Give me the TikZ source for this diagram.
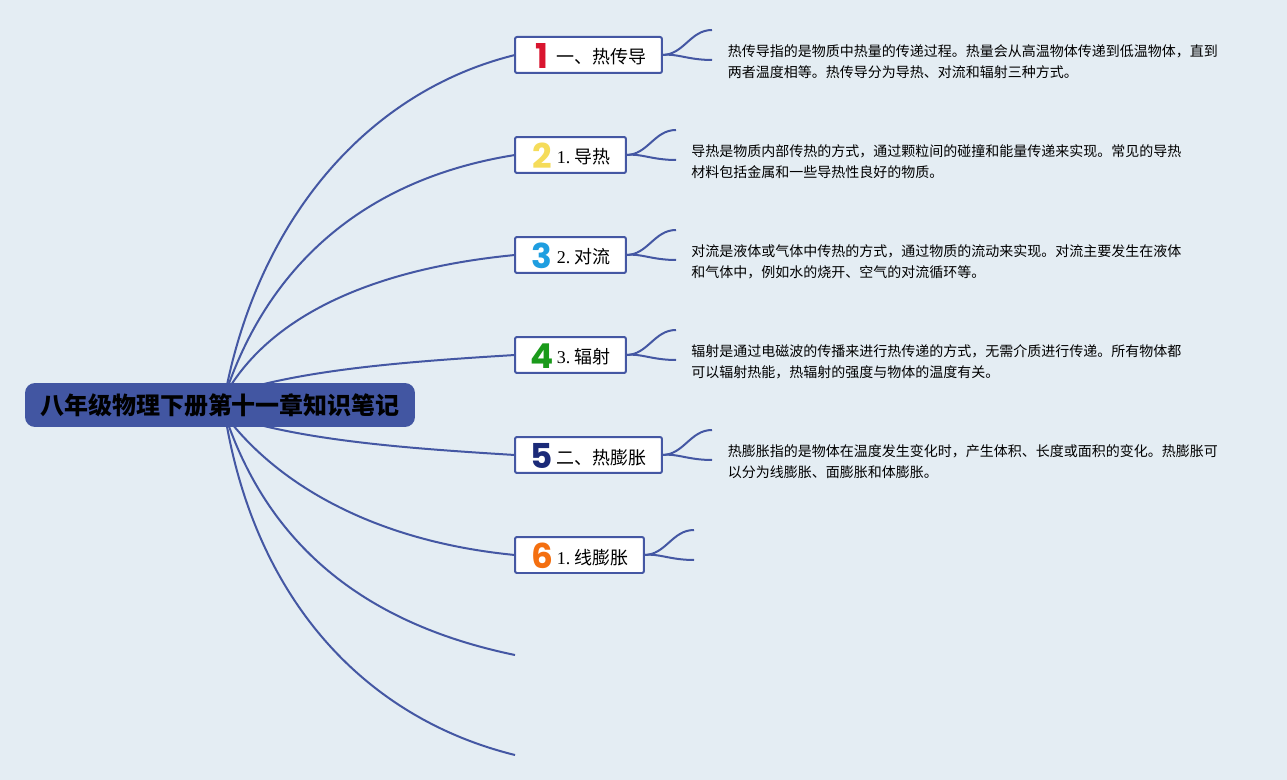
\documentclass[tikz,border=0pt]{standalone}
\usepackage{fontspec}
\setmainfont{Liberation Serif}
\newfontfamily\cjk{Noto Sans CJK SC}
\newfontfamily\numfont{Poppins}
\usetikzlibrary{backgrounds}
\usepackage{xcolor}
\definecolor{paper}{HTML}{E4EDF3}
\definecolor{linecol}{HTML}{4457A3}
\definecolor{rootcol}{HTML}{4256A2}
\definecolor{numa}{HTML}{D9152F}
\definecolor{numb}{HTML}{F5DC5A}
\definecolor{numc}{HTML}{1F9EE0}
\definecolor{numd}{HTML}{1A9A1A}
\definecolor{nume}{HTML}{1B2A78}
\definecolor{numf}{HTML}{F46F10}
\newcommand{\toptext}[3]{\hspace*{0.24cm}\makebox[0.6cm][c]{\raisebox{-0.09cm}{\fontsize{19.5}{20}\selectfont\numfont\bfseries\textcolor{#1}{#2}}}#3\hspace*{0.3cm}}

\begin{document}
\begin{tikzpicture}[x=0.02cm, y=-0.02cm,
    root/.style={fill=rootcol, rounded corners=0.2cm, minimum width=7.8cm, minimum height=0.88cm, inner sep=0pt, outer sep=0pt, font=\fontsize{13.65}{16}\selectfont\cjk\bfseries},
    topic/.style={draw=linecol, line width=0.04cm, fill=white, rounded corners=0.04cm, anchor=west, text height=0.54cm, text depth=0.18cm, inner sep=0pt, outer sep=0pt, font=\fontsize{10.24}{12}\selectfont},
    note/.style={anchor=north west, align=left, inner sep=0pt, font=\fontsize{7.97}{11.95}\selectfont\cjk},
    branch/.style={draw=linecol, line width=0.04cm}]
    \node[root] (0) at (220,405) {八年级物理下册第十一章知识笔记};
    \coordinate (0u) at (225,395);
    \coordinate (0d) at (225,415);

    \node[topic] (1) at (515,55) {\toptext{numa}{1}{\cjk 一、热传导}};
    \node[topic] (2) at (515,155) {\toptext{numb}{2}{1.\ {\cjk 导热}}};
    \node[topic] (3) at (515,255) {\toptext{numc}{3}{2.\ {\cjk 对流}}};
    \node[topic] (4) at (515,355) {\toptext{numd}{4}{3.\ {\cjk 辐射}}};
    \node[topic] (5) at (515,455) {\toptext{nume}{5}{\cjk 二、热膨胀}};
    \node[topic] (6) at (515,555) {\toptext{numf}{6}{1.\ {\cjk 线膨胀}}};
    \coordinate (7) at (515,655);
    \coordinate (8) at (515,755);

    \coordinate (1a) at (712,30);
    \coordinate (1b) at (712,60);
    \coordinate (2a) at (676,130);
    \coordinate (2b) at (676,160);
    \coordinate (3a) at (676,230);
    \coordinate (3b) at (676,260);
    \coordinate (4a) at (676,330);
    \coordinate (4b) at (676,360);
    \coordinate (5a) at (712,430);
    \coordinate (5b) at (712,460);
    \coordinate (6a) at (694,530);
    \coordinate (6b) at (694,560);

    \node[note] (t1) at (727.5,44) {热传导指的是物质中热量的传递过程。热量会从高温物体传递到低温物体，直到\\两者温度相等。热传导分为导热、对流和辐射三种方式。};
    \node[note] (t2) at (691,144) {导热是物质内部传热的方式，通过颗粒间的碰撞和能量传递来实现。常见的导热\\材料包括金属和一些导热性良好的物质。};
    \node[note] (t3) at (691,244) {对流是液体或气体中传热的方式，通过物质的流动来实现。对流主要发生在液体\\和气体中，例如水的烧开、空气的对流循环等。};
    \node[note] (t4) at (691,344) {辐射是通过电磁波的传播来进行热传递的方式，无需介质进行传递。所有物体都\\可以辐射热能，热辐射的强度与物体的温度有关。};
    \node[note] (t5) at (727.5,444) {热膨胀指的是物体在温度发生变化时，产生体积、长度或面积的变化。热膨胀可\\以分为线膨胀、面膨胀和体膨胀。};

    \begin{scope}[on background layer]
        \fill[paper] (0,0) rectangle (1287,780);
        \draw[branch] (0u) .. controls (258,222) and (365,92) .. (1.west);
        \draw[branch] (0u) .. controls (270,260) and (370,178) .. (2.west);
        \draw[branch] (0u) .. controls (272,312) and (380,268) .. (3.west);
        \draw[branch] (0u) .. controls (300,370) and (400,362) .. (4.west);
        \draw[branch] (0d) .. controls (300,440) and (400,448) .. (5.west);
        \draw[branch] (0d) .. controls (280,488) and (380,542) .. (6.west);
        \draw[branch] (0d) .. controls (270,550) and (370,625) .. (7);
        \draw[branch] (0d) .. controls (255,600) and (365,718) .. (8);
    \end{scope}

    \foreach \n in {1,...,6} {
        \draw[branch] (\n.east) .. controls +(22,0) and +(-22,0) .. (\n a);
        \draw[branch] (\n.east) .. controls +(14,-2) and +(-24,0) .. (\n b);
    }
\end{tikzpicture}
\end{document}
